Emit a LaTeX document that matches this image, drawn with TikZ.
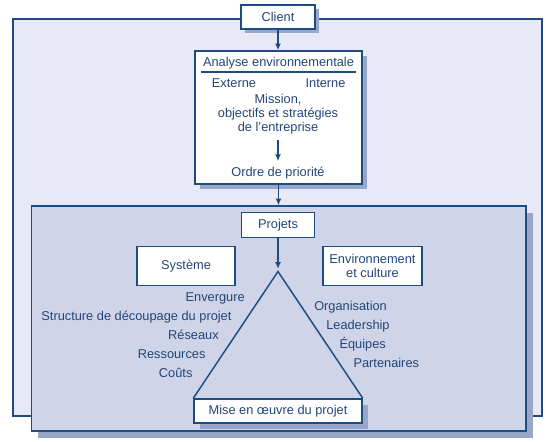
\documentclass[tikz,border=0pt]{standalone}
\usepackage{fontspec}
\setmainfont{Liberation Sans}
\usetikzlibrary{arrows.meta, positioning, shadows}
\definecolor{cadrefond}{RGB}{231, 234, 246}
\definecolor{zonefond}{RGB}{207, 212, 232}
\definecolor{ombre}{RGB}{152, 166, 202}
\definecolor{trait}{RGB}{28, 76, 130}
\definecolor{texte}{RGB}{35, 70, 120}

\begin{document}
\begin{tikzpicture}[
  x=0.75pt, y=-0.75pt,
  font=\fontsize{9.6}{10.5}\selectfont, text=texte,
  cadre/.style = {rectangle, draw=trait, line width=0.8pt, inner sep=0pt},
  boite/.style = {rectangle, draw=trait, line width=1.1pt, fill=white,
                  inner sep=0pt, align=center},
  ombree/.style = {drop shadow={shadow xshift=#1, shadow yshift=-#1,
                   fill=ombre, opacity=1}},
  etiq/.style = {inner sep=0pt, text height=1.6ex, text depth=0.3ex},
  arr/.style = {-{Latex[length=5pt, width=4.5pt]}, line width=1.1pt, draw=trait}
]
\useasboundingbox (0,0) rectangle (546,442);
\node[cadre, fill=cadrefond, minimum width=396.75pt, minimum height=297.75pt] (cadre) at (277.5,217.5) {};
\node[boite, ombree=3pt, minimum width=55.5pt, minimum height=18pt] (client) at (278,17) {Client};
\node[boite, ombree=4pt, minimum width=125.25pt, minimum height=99.75pt] (analyse) at (278.5,117.5) {};
\node[cadre, fill=zonefond, line width=1.1pt, ombree=5pt, minimum width=370.9pt, minimum height=168.75pt] (zone) at (278.75,318.5) {};

\node[etiq] (titre) at (278.5,62) {Analyse environnementale};
\draw[trait, line width=0.9pt] (201,72) -- (356,72);
\node[etiq] (externe) at (234,83) {Externe};
\node[etiq] (interne) at (325.5,83) {Interne};
\node[align=center, inner sep=0pt] (mission) at (278,114) {Mission,\\objectifs et stratégies\\de l'entreprise};
\node[etiq] (ordre) at (278,172) {Ordre de priorité};

\node[boite, minimum width=54.75pt, minimum height=19.1pt] (projets) at (278,225) {Projets};
\node[boite, minimum width=73.5pt, minimum height=29.25pt] (systeme) at (186,266) {Système};
\node[boite, minimum width=74.25pt, minimum height=29.25pt] (envcult) at (372.5,266) {Environnement\\et culture};
\node[boite, ombree=4.5pt, minimum width=126pt, minimum height=18pt] (mise) at (278,411) {Mise en œuvre du projet};
\coordinate (sommet) at (278,271.5);

\draw[arr] (client.south) -- (client.south |- analyse.north);
\draw[arr, shorten <=4pt, shorten >=3pt] (mission) -- (ordre);
\draw[arr] (analyse.south) -- (analyse.south |- zone.north);
\draw[arr, shorten >=2pt] (projets) -- (sommet);
\draw[trait, line width=1.1pt] (mise.north west) -- (sommet) -- (mise.north east);

\node[etiq, anchor=east] (envergure) at (245,297) {Envergure};
\node[etiq, anchor=east] (structure) at (231.7,316) {Structure de découpage du projet};
\node[etiq, anchor=east] (reseaux) at (219,335) {Réseaux};
\node[etiq, anchor=east] (ressources) at (205.7,354) {Ressources};
\node[etiq, anchor=east] (couts) at (192.7,373) {Coûts};
\node[etiq, anchor=west] (organisation) at (314,306) {Organisation};
\node[etiq, anchor=west] (leadership) at (326,324.5) {Leadership};
\node[etiq, anchor=west] (equipes) at (339.3,343.5) {Équipes};
\node[etiq, anchor=west] (partenaires) at (353.3,362.5) {Partenaires};
\end{tikzpicture}
\end{document}
